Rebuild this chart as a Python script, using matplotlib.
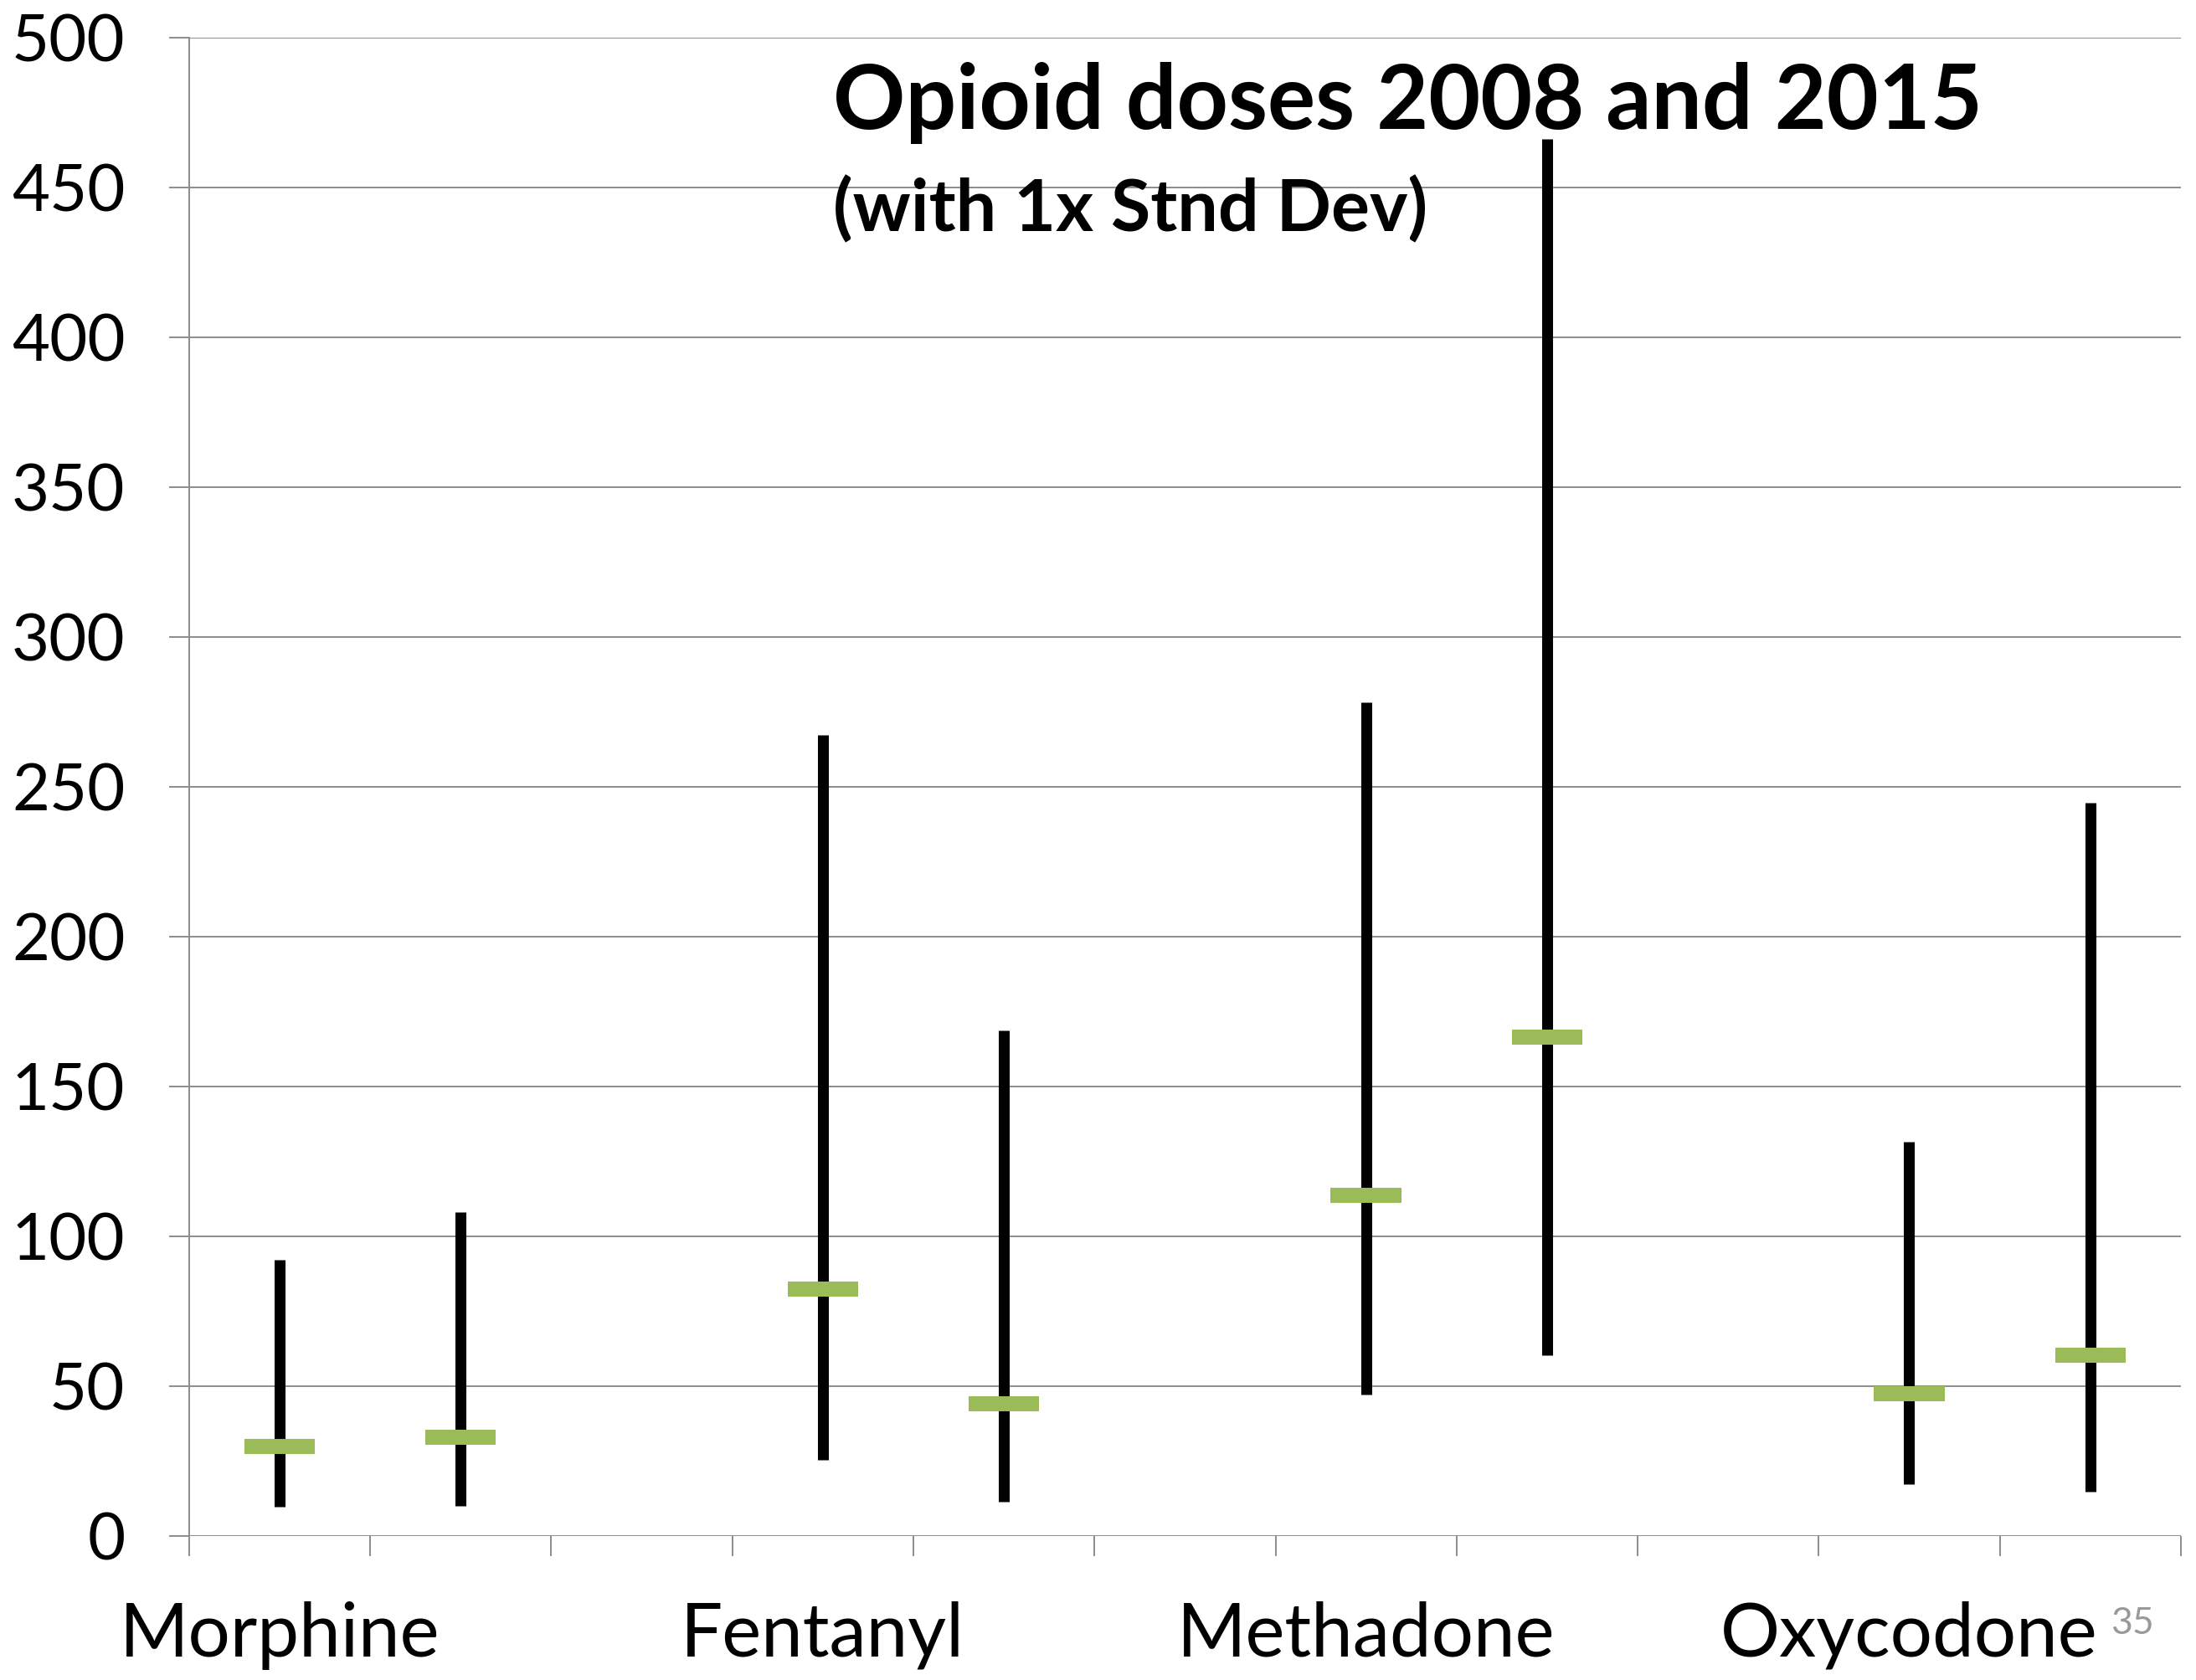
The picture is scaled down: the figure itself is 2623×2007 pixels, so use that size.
import numpy as np
from matplotlib import pyplot as plt

# 11 slots on the x axis, drug name under the first of each pair
slot_labels = ["Morphine", "", "", "Fentanyl", "", "", "Methadone", "", "", "Oxycodone", ""]
pos_2008 = [0, 3, 6, 9]
pos_2015 = [1, 4, 7, 10]

mean_2008 = [29.8, 82.3, 113.7, 47.6]
mean_2015 = [32.9, 44.0, 166.6, 60.3]
high_2008 = [92.2, 267.3, 278.2, 131.6]
high_2015 = [108.2, 168.7, 466.3, 244.6]
low_2008 = [9.7, 25.4, 47.3, 17.3]
low_2015 = [10.0, 11.5, 60.3, 14.9]

plt.rcParams['font.family'] = ['Lato', 'DejaVu Sans']

fig = plt.figure(figsize=(26.23, 20.07), dpi=100)
ax = fig.add_axes([0.0861, 0.0857, 0.907, 0.8918])

grid_col = '#8c8c8c'
green = '#9bbb59'

pos = pos_2008 + pos_2015
means = mean_2008 + mean_2015
highs = high_2008 + high_2015
lows = low_2008 + low_2015

ax.vlines(pos, lows, highs, colors='black', linewidth=9.4, capstyle='butt', zorder=3)
ax.hlines(means, np.array(pos) - 0.195, np.array(pos) + 0.195, colors=green,
          linewidth=13, capstyle='butt', zorder=4)

ax.set_xlim(-0.5, 10.5)
ax.set_ylim(0, 500)
ax.set_yticks(np.arange(0, 501, 50))
ax.set_xticks(np.arange(-0.5, 10.6, 1))
ax.set_xticklabels([])
ax.set_xticks(range(11), minor=True)
ax.set_xticklabels(slot_labels, minor=True, fontsize=64)
ax.tick_params(axis='x', which='minor', length=0, pad=56)
ax.tick_params(axis='x', which='major', length=17, width=1.4, color=grid_col)
ax.tick_params(axis='y', length=17, width=1.4, color=grid_col, labelsize=56, pad=38)

ax.grid(axis='y', color=grid_col, linewidth=1.4)
ax.set_axisbelow(True)
for s in ['top', 'right', 'bottom']:
    ax.spines[s].set_visible(False)
ax.spines['left'].set_color(grid_col)
ax.spines['left'].set_linewidth(1.4)

fig.text(0.3795, 0.9235, "Opioid doses 2008 and 2015", fontsize=77, fontweight='bold', va='baseline')
fig.text(0.3795, 0.8625, "(with 1x Stnd Dev)", fontsize=62, fontweight='bold', va='baseline')
fig.text(0.961, 0.0275, "35", fontsize=32, color='#999999', va='baseline')

fig.savefig("out.png", dpi=100)
